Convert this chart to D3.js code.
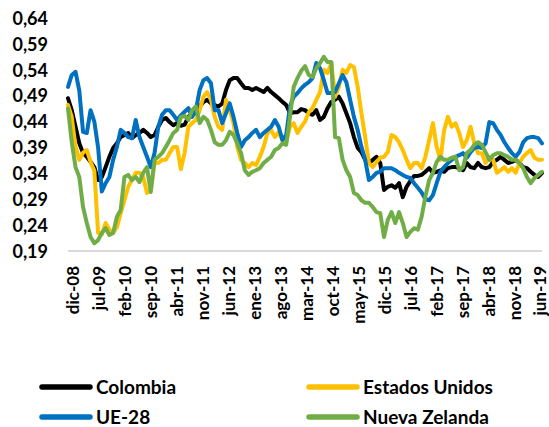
<!DOCTYPE html>
<html><head><meta charset="utf-8">
<script src="https://cdn.jsdelivr.net/npm/d3@7"></script>
<style>
html,body{margin:0;padding:0;background:#fff;}
svg{display:block;}
text{font-family:Lato,"Open Sans",sans-serif;font-weight:700;fill:#000;}
</style></head>
<body>
<script>
// Monthly series, dic-08 .. jun-19 (127 months)
const tickLabels = ["dic-08","jul-09","feb-10","sep-10","abr-11","nov-11","jun-12","ene-13","ago-13","mar-14","oct-14","may-15","dic-15","jul-16","feb-17","sep-17","abr-18","nov-18","jun-19"];
const yTicks = [0.19,0.24,0.29,0.34,0.39,0.44,0.49,0.54,0.59,0.64];
const seriesNames = ["Colombia","Estados Unidos","UE-28","Nueva Zelanda"];

const colombia = [0.485,0.462,0.430,0.398,0.379,0.372,0.362,0.352,0.327,0.333,0.352,0.372,0.389,0.398,0.410,0.414,0.418,0.408,0.414,0.418,
0.424,0.418,0.410,0.414,0.430,0.443,0.447,0.439,0.433,0.437,0.432,0.434,0.449,0.456,0.456,0.469,0.478,0.482,0.475,0.472,
0.469,0.475,0.501,0.520,0.524,0.524,0.514,0.505,0.505,0.501,0.505,0.501,0.497,0.505,0.497,0.491,0.485,0.478,0.472,0.456,
0.458,0.458,0.464,0.462,0.456,0.453,0.462,0.443,0.449,0.466,0.478,0.482,0.488,0.475,0.456,0.437,0.410,0.389,0.381,0.366,
0.360,0.366,0.372,0.360,0.308,0.314,0.317,0.312,0.321,0.294,0.314,0.325,0.335,0.335,0.337,0.343,0.350,0.341,0.343,0.346,
0.343,0.350,0.352,0.352,0.350,0.346,0.360,0.352,0.350,0.360,0.352,0.350,0.352,0.362,0.366,0.372,0.366,0.360,0.362,0.366,
0.360,0.352,0.350,0.343,0.337,0.333,0.341];

const estadosUnidos = [0.472,0.449,0.391,0.366,0.380,0.385,0.362,0.345,0.225,0.222,0.244,0.231,0.225,0.236,0.263,0.288,0.314,0.327,0.341,0.341,
0.333,0.302,0.308,0.360,0.360,0.366,0.366,0.379,0.391,0.391,0.348,0.380,0.430,0.437,0.443,0.462,0.488,0.497,0.482,0.449,
0.430,0.424,0.482,0.462,0.437,0.391,0.366,0.360,0.352,0.360,0.356,0.372,0.391,0.418,0.424,0.410,0.420,0.404,0.400,0.430,
0.437,0.418,0.430,0.440,0.458,0.466,0.482,0.497,0.540,0.534,0.553,0.488,0.507,0.540,0.534,0.549,0.545,0.507,0.456,0.410,
0.360,0.352,0.362,0.370,0.372,0.381,0.414,0.410,0.400,0.385,0.366,0.350,0.360,0.360,0.350,0.372,0.404,0.437,0.391,0.366,
0.424,0.449,0.430,0.437,0.418,0.391,0.404,0.430,0.398,0.379,0.379,0.360,0.372,0.366,0.341,0.346,0.352,0.343,0.350,0.341,
0.360,0.372,0.379,0.385,0.370,0.366,0.366];

const ue28 = [0.507,0.530,0.536,0.500,0.420,0.418,0.462,0.440,0.390,0.305,0.321,0.333,0.366,0.391,0.424,0.418,0.410,0.408,0.443,0.410,
0.391,0.372,0.352,0.379,0.430,0.453,0.462,0.462,0.453,0.443,0.452,0.459,0.466,0.449,0.462,0.501,0.520,0.524,0.514,0.462,
0.462,0.437,0.456,0.475,0.449,0.418,0.391,0.404,0.410,0.418,0.424,0.410,0.418,0.424,0.430,0.443,0.430,0.404,0.414,0.469,
0.488,0.495,0.504,0.511,0.516,0.524,0.553,0.543,0.520,0.495,0.495,0.497,0.514,0.530,0.516,0.482,0.449,0.424,0.391,0.366,
0.327,0.333,0.341,0.343,0.350,0.350,0.350,0.346,0.341,0.337,0.333,0.331,0.321,0.312,0.303,0.290,0.288,0.298,0.321,0.343,
0.352,0.360,0.366,0.372,0.375,0.379,0.370,0.381,0.389,0.391,0.389,0.398,0.439,0.437,0.424,0.414,0.400,0.389,0.379,0.372,
0.381,0.400,0.408,0.410,0.410,0.408,0.398];

const nuevaZelanda = [0.465,0.400,0.352,0.333,0.275,0.244,0.217,0.205,0.211,0.225,0.234,0.221,0.225,0.256,0.269,0.333,0.337,0.327,0.333,0.323,
0.341,0.352,0.304,0.366,0.372,0.379,0.391,0.404,0.418,0.424,0.449,0.451,0.443,0.462,0.469,0.437,0.449,0.443,0.424,0.400,
0.395,0.395,0.404,0.420,0.414,0.398,0.379,0.346,0.337,0.343,0.346,0.350,0.360,0.366,0.372,0.385,0.389,0.398,0.395,0.449,
0.507,0.524,0.538,0.547,0.530,0.526,0.543,0.553,0.565,0.555,0.555,0.410,0.408,0.366,0.346,0.333,0.302,0.298,0.288,0.283,
0.283,0.275,0.265,0.263,0.217,0.250,0.265,0.244,0.265,0.244,0.217,0.227,0.234,0.231,0.256,0.295,0.327,0.341,0.362,0.372,
0.366,0.366,0.370,0.372,0.346,0.352,0.379,0.385,0.395,0.400,0.395,0.381,0.366,0.375,0.379,0.379,0.375,0.372,0.366,0.366,
0.360,0.350,0.333,0.321,0.331,0.337,0.343];

const colors = ["#000000","#FFC000","#0070C0","#70AD47"];
const allSeries = [colombia, estadosUnidos, ue28, nuevaZelanda];

const W = 549, H = 427;
const svg = d3.select("body").append("svg").attr("width", W).attr("height", H);

const n = colombia.length;
const x = d3.scaleLinear().domain([0, n - 1]).range([68, 542]);
const y = d3.scaleLinear().domain([0.19, 0.64]).range([251, 18]);
const xLab = d3.scalePoint().domain(tickLabels).range([73, 540]);

// y axis labels
const fmt = v => d3.format(".2f")(v).replace(".", ",");
const yAxis = d3.axisLeft(y).tickValues(yTicks).tickFormat(fmt).tickSize(0).tickPadding(0);
const gy = svg.append("g").attr("transform", "translate(48,0)").call(yAxis);
gy.select(".domain").remove();
gy.selectAll("text").attr("font-size", 18).attr("font-family", "Lato").attr("font-weight", 700).attr("fill", "#000").attr("dy", "0.35em");

// x axis line
svg.append("line").attr("x1", x(0)).attr("x2", x(n - 1)).attr("y1", y(0.19)).attr("y2", y(0.19))
  .attr("stroke", "#d9d9d9").attr("stroke-width", 2);

// x labels
const xAxis = d3.axisBottom(xLab).tickSize(0).tickPadding(0);
const gx = svg.append("g").attr("transform", "translate(0,266)").call(xAxis);
gx.select(".domain").remove();
gx.selectAll("text")
  .attr("font-size", 17).attr("font-family", "Lato").attr("font-weight", 700).attr("fill", "#000")
  .attr("text-anchor", "end").attr("transform", "rotate(-90)").attr("x", 0).attr("y", 0).attr("dy", "0.35em");

// lines
const line = d3.line().x((d, i) => x(i)).y(d => y(d));
allSeries.forEach((s, k) => {
  svg.append("path").datum(s).attr("d", line).attr("fill", "none")
    .attr("stroke", colors[k]).attr("stroke-width", 4).attr("stroke-linejoin", "round").attr("stroke-linecap", "round");
});

// legend
const legPos = [[40, 387], [307, 387], [40, 417], [307, 417]];
seriesNames.forEach((name, k) => {
  const [lx, ly] = legPos[k];
  svg.append("line").attr("x1", lx + 2).attr("x2", lx + 50).attr("y1", ly).attr("y2", ly)
    .attr("stroke", colors[k]).attr("stroke-width", 5.5).attr("stroke-linecap", "round");
  svg.append("text").attr("x", lx + 56).attr("y", ly).attr("dy", "0.35em")
    .attr("font-size", 19).text(name);
});
</script>
</body></html>
